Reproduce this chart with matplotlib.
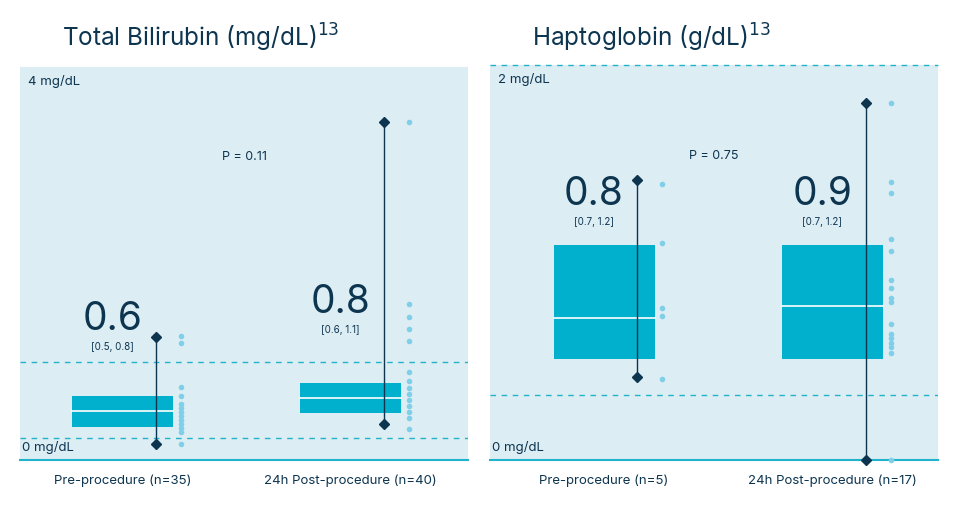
import matplotlib.pyplot as plt

plt.rcParams['font.family'] = ['Inter', 'DejaVu Sans']

BG = '#dcedf3'
BOX = '#00b0cc'
DARK = '#0d3550'
DOT = '#7fcfe8'
DASH = '#22b3cc'

# Total bilirubin (mg/dL)
bili_labels = ['Pre-procedure (n=35)', '24h Post-procedure (n=40)']
bili_median = [0.5, 0.63]
bili_q1 = [0.34, 0.48]
bili_q3 = [0.65, 0.78]
bili_min = [0.16, 0.37]
bili_max = [1.25, 3.44]
bili_text = ['0.6', '0.8']
bili_ci = ['[0.5, 0.8]', '[0.6, 1.1]']
bili_dots = [
    [1.26, 1.19, 0.74, 0.65, 0.57, 0.53, 0.49, 0.45, 0.41, 0.37, 0.33, 0.28, 0.16],
    [3.44, 1.59, 1.46, 1.33, 1.21, 0.90, 0.80, 0.73, 0.67, 0.61, 0.55, 0.49, 0.43, 0.32],
]
bili_ref = [0.22, 1.0]

# Haptoglobin (g/dL)
hapto_labels = ['Pre-procedure (n=5)', '24h Post-procedure (n=17)']
hapto_median = [0.72, 0.78]
hapto_q1 = [0.51, 0.51]
hapto_q3 = [1.09, 1.09]
hapto_min = [0.42, 0.0]
hapto_max = [1.42, 1.81]
hapto_text = ['0.8', '0.9']
hapto_ci = ['[0.7, 1.2]', '[0.7, 1.2]']
hapto_dots = [
    [1.40, 1.10, 0.77, 0.73, 0.41],
    [1.81, 1.41, 1.35, 1.12, 1.06, 0.91, 0.87, 0.82, 0.80, 0.69, 0.64, 0.62, 0.59, 0.57, 0.54, 0.0],
]
hapto_ref = [0.33]

W, H = 960, 509
fig = plt.figure(figsize=(9.6, 5.09), dpi=100)


def panel(left, top_px, ymax, centers, label_y, labels, med, q1, q3, lo, hi,
          txt, ci, dots, ref, ptext, title, unit_top, dashed_top):
    ax = fig.add_axes([left / W, 1 - 460 / H, 448 / W, (460 - top_px) / H])
    ax.set_facecolor(BG)
    ax.set_xlim(0, 448)
    ax.set_ylim(0, ymax)
    for s in ax.spines.values():
        s.set_visible(False)
    ax.set_xticks([])
    ax.set_yticks([])
    for r in ref:
        ax.axhline(r, color=DASH, lw=1, ls=(0, (4, 4)))
    ax.axhline(0, color=DASH, lw=1.5, clip_on=False)
    for i, c in enumerate(centers):
        ax.bar(c, q3[i] - q1[i], bottom=q1[i], width=101, color=BOX, zorder=2)
        ax.plot([c - 50.5, c + 50.5], [med[i], med[i]], color='white', lw=1.2, zorder=3)
        wx = c + 33
        ax.plot([wx, wx], [lo[i], hi[i]], color=DARK, lw=1, zorder=4)
        ax.plot([wx, wx], [lo[i], hi[i]], 'D', color=DARK, ms=5, zorder=5, clip_on=False)
        ax.scatter([c + 58] * len(dots[i]), dots[i], s=16, color=DOT, zorder=4,
                   clip_on=False, linewidths=0)
        ax.text(c - 10, label_y[i], txt[i], fontsize=28, color=DARK,
                ha='center', va='bottom')
        ax.text(c - 10, label_y[i] - 0.01 * ymax, ci[i], fontsize=7, color=DARK,
                ha='center', va='top')
        fig.text((left + c) / W, 1 - 481 / H, labels[i], fontsize=9.5, color=DARK,
                 ha='center', va='center')
    ax.text(0.5, 0.77, ptext, transform=ax.transAxes,
            fontsize=9, color=DARK, ha='center', va='center')
    ax.text(8, ymax * (1 - 14 / (460 - top_px)), unit_top, fontsize=9.5,
            color=DARK, va='center')
    ax.text(2, ymax * 12 / (460 - top_px), '0 mg/dL', fontsize=9.5, color=DARK,
            va='center')
    if dashed_top:
        ax.axhline(ymax, color=DASH, lw=1, ls=(0, (4, 4)), clip_on=False)
    fig.text((left + 42) / W, 1 - 38 / H, title, fontsize=17.5, color=DARK,
             va='center')
    return ax


panel(20, 67, 4.0, [102.5, 330.5], [1.24, 1.41], bili_labels, bili_median,
      bili_q1, bili_q3, bili_min, bili_max, bili_text, bili_ci, bili_dots,
      bili_ref, 'P = 0.11', 'Total Bilirubin (mg/dL)$^{13}$', '4 mg/dL', False)
panel(490, 65, 2.0, [114, 342.5], [1.25, 1.25], hapto_labels, hapto_median,
      hapto_q1, hapto_q3, hapto_min, hapto_max, hapto_text, hapto_ci, hapto_dots,
      hapto_ref, 'P = 0.75', 'Haptoglobin (g/dL)$^{13}$', '2 mg/dL', True)

fig.savefig('out.png', dpi=100)
